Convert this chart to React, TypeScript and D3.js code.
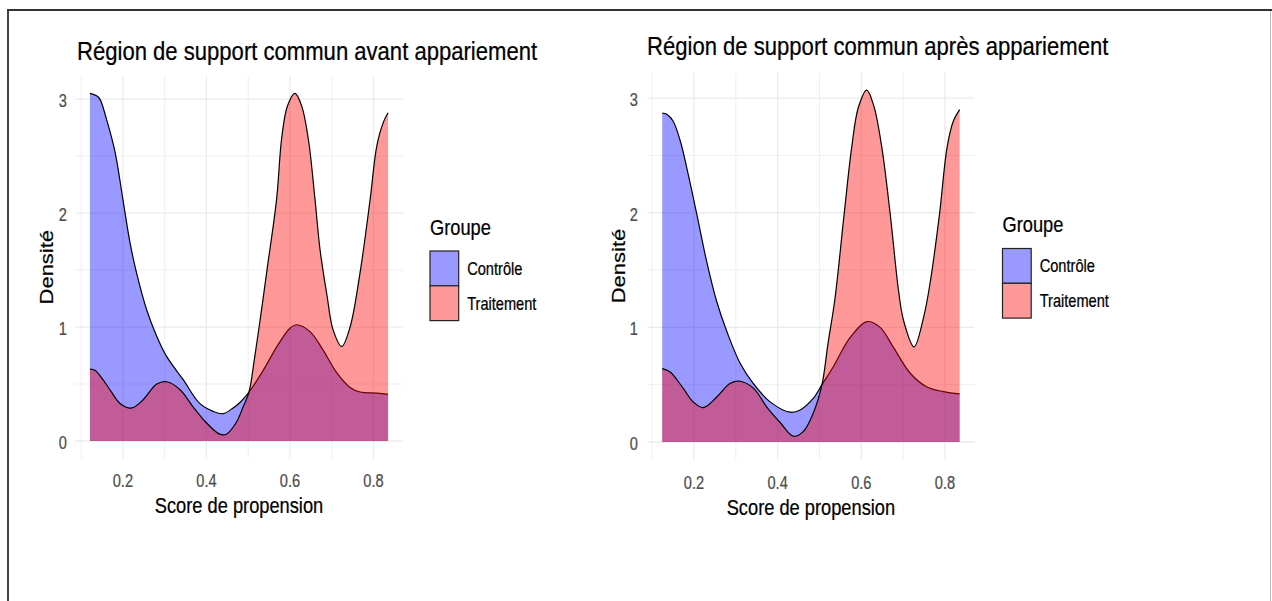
import React from 'react';
import * as d3 from 'd3';

// Groups and colours (ggplot fill with alpha 0.4)
const groupes = ['Contrôle', 'Traitement'];
const groupColors = ['#0000FF', '#FF0000'];

const xTicks = [0.2, 0.4, 0.6, 0.8];
const xMinorTicks = [0.1, 0.3, 0.5, 0.7];
const yTicks = [0, 1, 2, 3];
const yMinorTicks = [0.5, 1.5, 2.5];

// Avant appariement
const avantControleX = [0.121, 0.137, 0.145, 0.161, 0.181, 0.2, 0.217, 0.233, 0.257, 0.281, 0.305, 0.344, 0.384, 0.416, 0.44, 0.464, 0.481, 0.502, 0.536, 0.569, 0.6, 0.616, 0.648, 0.679, 0.712, 0.744, 0.768, 0.808, 0.835];
const avantControleY = [3.05, 3.03, 3.0, 2.82, 2.54, 2.12, 1.74, 1.47, 1.15, 0.92, 0.74, 0.54, 0.33, 0.26, 0.24, 0.29, 0.34, 0.43, 0.62, 0.83, 0.99, 1.02, 0.96, 0.8, 0.6, 0.47, 0.43, 0.42, 0.41];
const avantTraitementX = [0.121, 0.133, 0.15, 0.169, 0.193, 0.221, 0.248, 0.281, 0.305, 0.337, 0.368, 0.4, 0.432, 0.448, 0.471, 0.488, 0.502, 0.515, 0.53, 0.545, 0.568, 0.58, 0.594, 0.612, 0.628, 0.644, 0.66, 0.672, 0.689, 0.703, 0.724, 0.744, 0.768, 0.792, 0.808, 0.824, 0.835];
const avantTraitementY = [0.63, 0.62, 0.55, 0.45, 0.33, 0.29, 0.36, 0.5, 0.52, 0.45, 0.3, 0.16, 0.06, 0.06, 0.16, 0.3, 0.43, 0.72, 1.1, 1.5, 2.12, 2.65, 2.94, 3.05, 2.94, 2.65, 2.12, 1.68, 1.27, 0.98, 0.83, 1.0, 1.48, 2.12, 2.59, 2.8, 2.88];

// Après appariement
const apresControleX = [0.124, 0.135, 0.15, 0.167, 0.186, 0.206, 0.23, 0.254, 0.278, 0.31, 0.342, 0.382, 0.43, 0.454, 0.485, 0.506, 0.532, 0.573, 0.613, 0.645, 0.676, 0.717, 0.757, 0.796, 0.835];
const apresControleY = [2.87, 2.86, 2.8, 2.63, 2.34, 2.0, 1.58, 1.23, 0.97, 0.69, 0.51, 0.35, 0.26, 0.28, 0.38, 0.5, 0.65, 0.91, 1.05, 1.0, 0.83, 0.6, 0.48, 0.44, 0.42];
const apresTraitementX = [0.124, 0.143, 0.174, 0.198, 0.222, 0.254, 0.286, 0.31, 0.342, 0.375, 0.406, 0.438, 0.461, 0.485, 0.506, 0.52, 0.537, 0.559, 0.577, 0.593, 0.613, 0.63, 0.649, 0.669, 0.689, 0.701, 0.726, 0.749, 0.765, 0.787, 0.805, 0.82, 0.835];
const apresTraitementY = [0.64, 0.61, 0.47, 0.35, 0.3, 0.39, 0.51, 0.53, 0.47, 0.3, 0.17, 0.05, 0.09, 0.25, 0.5, 0.85, 1.25, 1.99, 2.57, 2.92, 3.07, 2.93, 2.57, 1.99, 1.32, 1.06, 0.83, 1.09, 1.4, 1.99, 2.57, 2.8, 2.9];

const FONT = '"Liberation Sans", Arial, sans-serif';
const SQ = 0.83; // the source picture is squeezed horizontally

type Pt = { x: number; y: number };

const zip = (xs: number[], ys: number[]): Pt[] => xs.map((x, i) => ({ x, y: ys[i] }));

const Txt = ({ x, y, size, anchor = 'start', fill = '#000', rotate = false, baseline, children }: any) => (
  <text
    transform={rotate ? `translate(${x},${y}) rotate(-90) scale(1,${SQ})` : `translate(${x},${y}) scale(${SQ},1)`}
    fontSize={size}
    fontFamily={FONT}
    textAnchor={anchor}
    dominantBaseline={baseline}
    fill={fill}
    stroke={fill}
    strokeWidth={0.25}
  >
    {children}
  </text>
);

const DensityPanel = ({ title, series, box, lay }: any) => {
  const allX = series.flat().map((d: Pt) => d.x);
  const [xmin, xmax] = d3.extent(allX) as [number, number];
  const xPad = (xmax - xmin) * 0.05;
  const ymax = d3.max(series.flat(), (d: Pt) => d.y) as number;
  const yPad = ymax * 0.05;

  const x = d3.scaleLinear().domain([xmin - xPad, xmax + xPad]).range([box.x0, box.x1]);
  const y = d3.scaleLinear().domain([-yPad, ymax + yPad]).range([box.y1, box.y0]);

  const curve = d3.curveCatmullRom.alpha(0.5);
  const area = d3.area<Pt>().x(d => x(d.x)).y0(y(0)).y1(d => y(d.y)).curve(curve);
  const line = d3.line<Pt>().x(d => x(d.x)).y(d => y(d.y)).curve(curve);

  const grid = '#EBEBEB';
  const keyW = 28.7;
  const keyH = 34.8;

  return (
    <g>
      {/* grid */}
      {yMinorTicks.map(t => (
        <line key={'ym' + t} x1={box.x0} x2={box.x1} y1={y(t)} y2={y(t)} stroke={grid} strokeWidth={0.8} />
      ))}
      {xMinorTicks.filter(t => x(t) >= box.x0 && x(t) <= box.x1).map(t => (
        <line key={'xm' + t} x1={x(t)} x2={x(t)} y1={box.y0} y2={box.y1} stroke={grid} strokeWidth={0.8} />
      ))}
      {yTicks.map(t => (
        <line key={'y' + t} x1={box.x0} x2={box.x1} y1={y(t)} y2={y(t)} stroke={grid} strokeWidth={1.3} />
      ))}
      {xTicks.map(t => (
        <line key={'x' + t} x1={x(t)} x2={x(t)} y1={box.y0} y2={box.y1} stroke={grid} strokeWidth={1.3} />
      ))}

      {/* densities: area then outline, in group order */}
      {series.map((s: Pt[], i: number) => (
        <g key={i}>
          <path d={area(s) || ''} fill={groupColors[i]} fillOpacity={0.4} />
          <path d={line(s) || ''} fill="none" stroke="#000" strokeWidth={1.2} />
        </g>
      ))}

      {/* axes labels */}
      {yTicks.map(t => (
        <Txt key={'yl' + t} x={lay.yTickX} y={y(t) + 1.5} size={17.6} anchor="end" fill="#4D4D4D" baseline="central">
          {t}
        </Txt>
      ))}
      {xTicks.map(t => (
        <Txt key={'xl' + t} x={x(t)} y={lay.xTickY} size={17.6} anchor="middle" fill="#4D4D4D" baseline="central">
          {t.toFixed(1)}
        </Txt>
      ))}
      <Txt x={(box.x0 + box.x1) / 2} y={lay.xTitleY} size={22} anchor="middle">Score de propension</Txt>
      <Txt x={lay.yTitleX} y={(box.y0 + box.y1) / 2} size={22} anchor="middle" rotate>Densité</Txt>
      <Txt x={lay.titleX} y={lay.titleY} size={26.6}>{title}</Txt>

      {/* legend */}
      <Txt x={lay.legendX} y={lay.legendTitleY} size={22}>Groupe</Txt>
      {groupes.map((g, i) => (
        <g key={g}>
          <rect x={lay.legendX} y={lay.keyTop + i * keyH} width={keyW} height={keyH} fill="#fff" />
          <rect
            x={lay.legendX}
            y={lay.keyTop + i * keyH}
            width={keyW}
            height={keyH}
            fill={groupColors[i]}
            fillOpacity={0.4}
            stroke="#222"
            strokeWidth={1.2}
          />
          <Txt x={lay.legendX + keyW + 8.5} y={lay.keyTop + i * keyH + keyH / 2} size={17.6} baseline="central">
            {g}
          </Txt>
        </g>
      ))}
    </g>
  );
};

export default function App() {
  const avant = [zip(avantControleX, avantControleY), zip(avantTraitementX, avantTraitementY)];
  const apres = [zip(apresControleX, apresControleY), zip(apresTraitementX, apresTraitementY)];

  return (
    <svg width={1272} height={601} style={{ position: 'absolute', left: 0, top: 0, background: '#fff' }}>
      <rect width={1272} height={601} fill="#fff" />
      <DensityPanel
        title="Région de support commun avant appariement"
        series={avant}
        box={{ x0: 75, x1: 403, y0: 76, y1: 458.4 }}
        lay={{ titleX: 77, titleY: 60, yTickX: 67, xTickY: 480, xTitleY: 513, yTitleX: 53, legendX: 430, legendTitleY: 235, keyTop: 251 }}
      />
      <DensityPanel
        title="Région de support commun après appariement"
        series={apres}
        box={{ x0: 647.3, x1: 974.5, y0: 72.5, y1: 459.6 }}
        lay={{ titleX: 647, titleY: 55, yTickX: 638, xTickY: 482, xTitleY: 515, yTitleX: 625, legendX: 1002.5, legendTitleY: 232, keyTop: 248.5 }}
      />
      {/* frame of the source picture */}
      <line x1={8} x2={8} y1={9} y2={601} stroke="#444" strokeWidth={2} />
      <line x1={7} x2={1272} y1={10} y2={10} stroke="#333" strokeWidth={2} />
      <line x1={1270.5} x2={1270.5} y1={11} y2={601} stroke="#BBB" strokeWidth={1} />
    </svg>
  );
}
